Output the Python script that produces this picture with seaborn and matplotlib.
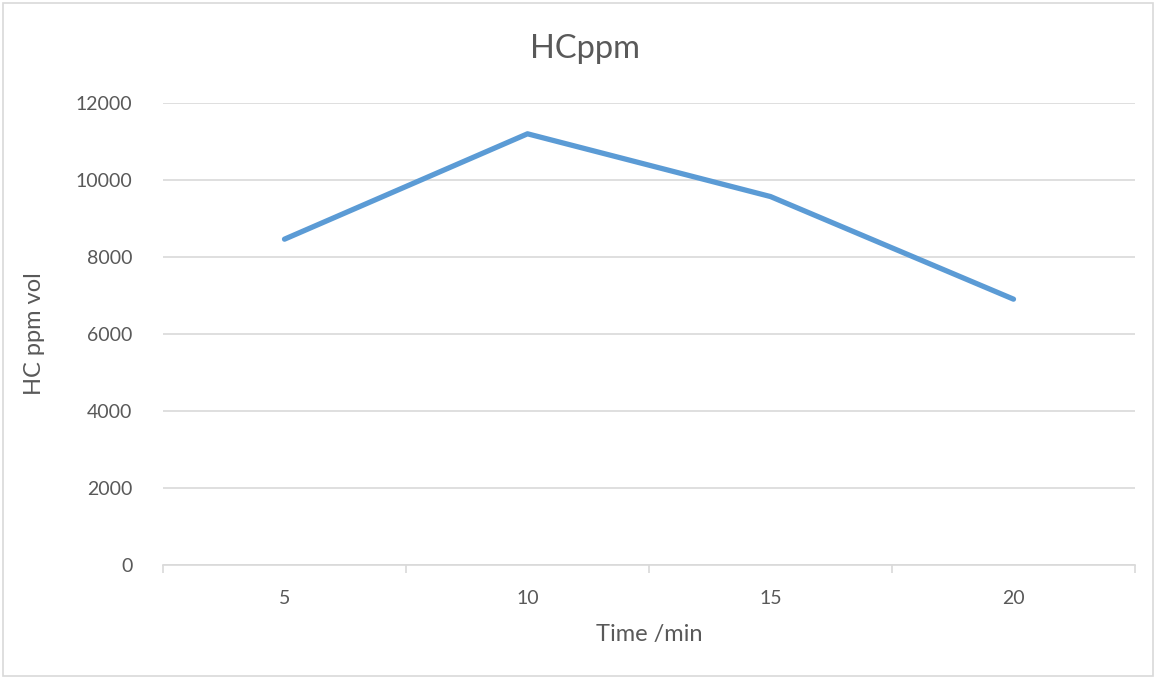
import matplotlib
matplotlib.use("Agg")
import matplotlib.pyplot as plt
import seaborn as sns
import pandas as pd
from matplotlib.patches import Rectangle

times = ["5", "10", "15", "20"]
hc_ppm = [8463, 11200, 9570, 6905]
y_ticks = [0, 2000, 4000, 6000, 8000, 10000, 12000]

sns.set_theme(style="white")
plt.rcParams['font.family'] = ['Lato', 'DejaVu Sans']

fig = plt.figure(figsize=(11.56, 6.79), dpi=100)
ax = fig.add_axes([163/1156, 1-565/679, (1135-163)/1156, (565-103)/679])

df = pd.DataFrame({"Time": times, "HC": hc_ppm})
sns.lineplot(data=df, x="Time", y="HC", ax=ax, color="#5B9BD5", linewidth=3.8,
             sort=False, solid_capstyle="round", solid_joinstyle="round")

ax.set_xlim(-0.5, len(times) - 0.5)
ax.set_ylim(0, 12000)
ax.set_yticks(y_ticks)
ax.set_yticklabels([str(v) for v in y_ticks])
ax.set_xticks(range(len(times)))
ax.set_xticklabels(times)
ax.set_xticks([i - 0.5 for i in range(len(times) + 1)], minor=True)

ax.yaxis.grid(True, color="#D9D9D9", linewidth=1.2)
ax.xaxis.grid(False)
for s in ["top", "right", "left"]:
    ax.spines[s].set_visible(False)
ax.spines["bottom"].set_color("#D9D9D9")
ax.spines["bottom"].set_linewidth(1.2)

ax.tick_params(axis="y", length=0, pad=22, labelsize=14, labelcolor="#595959")
ax.tick_params(axis="x", which="major", length=0, pad=18, labelsize=14, labelcolor="#595959")
ax.tick_params(axis="x", which="minor", length=6, width=1.2, color="#D9D9D9", bottom=True)

ax.set_xlabel("Time /min", fontsize=17, color="#595959", labelpad=12)
ax.set_ylabel("HC ppm vol", fontsize=17, color="#595959", labelpad=22)
fig.text(585/1156, 1 - 49/679, "HCppm", ha="center", va="center", fontsize=23.5, color="#595959")

fig.patches.append(Rectangle((3/1156, 3/679), 1 - 6/1156, 1 - 6/679, transform=fig.transFigure,
                             fill=False, edgecolor="#D9D9D9", linewidth=1.2))

fig.savefig("out.png", dpi=100, facecolor="white")
